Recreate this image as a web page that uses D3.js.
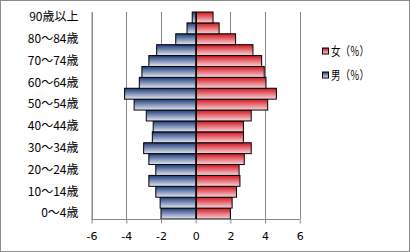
<!DOCTYPE html>
<html><head><meta charset="utf-8">
<script src="https://cdn.jsdelivr.net/npm/d3@7"></script>
<style>
html,body{margin:0;padding:0;background:#fff;}
svg{display:block;}
text{font-family:"Noto Sans CJK JP","Noto Sans",sans-serif;}
</style></head>
<body><svg id="c" width="410" height="252"></svg>
<script>
const categories = ["0～4歳","5～9歳","10～14歳","15～19歳","20～24歳","25～29歳","30～34歳","35～39歳","40～44歳","45～49歳","50～54歳","55～59歳","60～64歳","65～69歳","70～74歳","75～79歳","80～84歳","85～89歳","90歳以上"];
const male = [-2.0,-2.05,-2.3,-2.7,-2.3,-2.7,-3.0,-2.5,-2.45,-2.85,-3.55,-4.1,-3.25,-3.1,-2.7,-2.25,-1.15,-0.5,-0.2];
const female = [2.0,2.1,2.35,2.55,2.5,2.8,3.2,2.75,2.75,3.2,4.15,4.65,4.05,3.95,3.8,3.3,2.3,1.35,1.0];
const xTicks = [-6,-4,-2,0,2,4,6];
const yTickLabels = categories.filter((d,i)=>i%2===0);
const seriesNames = ["女（％）","男（％）"];

const svg = d3.select("#c");
const x = d3.scaleLinear().domain([-6,6]).range([91.6,299.8]);
const y = d3.scaleBand().domain(categories.slice().reverse()).range([12,219]).padding(0);

// outer border
svg.append("rect").attr("x",0.5).attr("y",0.5).attr("width",409).attr("height",251)
  .attr("fill","#fff").attr("stroke","#8c8c8c");

const defs = svg.append("defs");
function grad(id, c0, c1){
  const g = defs.append("linearGradient").attr("id",id).attr("x1",0).attr("y1",0).attr("x2",0).attr("y2",1);
  g.append("stop").attr("offset","0%").attr("stop-color",c0);
  g.append("stop").attr("offset","100%").attr("stop-color",c1);
}
grad("gm","#1d3a7a","#e3e8f3");
grad("gf","#d4141f","#f7d6da");

// gridlines
svg.append("g").selectAll("line").data(xTicks).join("line")
  .attr("x1",d=>Math.round(x(d))+0.5).attr("x2",d=>Math.round(x(d))+0.5)
  .attr("y1",12).attr("y2",219).attr("stroke","#888").attr("stroke-width",1);

// bars
const bars = svg.append("g");
bars.selectAll("rect.m").data(categories).join("rect").attr("class","m")
  .attr("x",(d,i)=>x(male[i])).attr("width",(d,i)=>x(0)-x(male[i]))
  .attr("y",d=>y(d)).attr("height",y.bandwidth())
  .attr("fill","url(#gm)").attr("stroke","#000").attr("stroke-width",1);
bars.selectAll("rect.f").data(categories).join("rect").attr("class","f")
  .attr("x",x(0)+0.8).attr("width",(d,i)=>x(female[i])-x(0)-0.8)
  .attr("y",d=>y(d)).attr("height",y.bandwidth())
  .attr("fill","url(#gf)").attr("stroke","#000").attr("stroke-width",1);

// x axis
const xAxis = d3.axisBottom(x).tickValues(xTicks).tickSize(4).tickFormat(d3.format("d"));
const gx = svg.append("g").attr("transform","translate(0,219.5)").call(xAxis);
gx.select(".domain").attr("stroke","#888").attr("d","M"+x(-6)+",0H"+x(6));
gx.selectAll(".tick line").attr("stroke","#888");
gx.selectAll("text").attr("font-size",11).attr("fill","#000").attr("dy","1.25em")
  .style("font-family","'DejaVu Sans',sans-serif").text(d=>d<0?"-"+Math.abs(d):d);

// y axis
const yAxis = d3.axisLeft(y).tickValues(yTickLabels).tickSize(0).tickPadding(13);
const gy = svg.append("g").attr("transform","translate(91.5,0)").call(yAxis);
gy.select(".domain").attr("stroke","#888");
gy.selectAll("text").attr("font-size",12).attr("fill","#000");

// legend
const leg = svg.append("g");
const lgColors = ["url(#gf)","url(#gm)"];
seriesNames.forEach((n,i)=>{
  const gy0 = 48 + i*24;
  leg.append("rect").attr("x",322.5).attr("y",gy0).attr("width",6).attr("height",6)
    .attr("fill",lgColors[i]).attr("stroke","#000");
  leg.append("text").attr("x",331).attr("y",gy0+3).attr("dy","0.38em")
    .attr("font-size",12).attr("fill","#000")
    .attr("textLength",38).attr("lengthAdjust","spacingAndGlyphs").text(n);
});
</script></body></html>
